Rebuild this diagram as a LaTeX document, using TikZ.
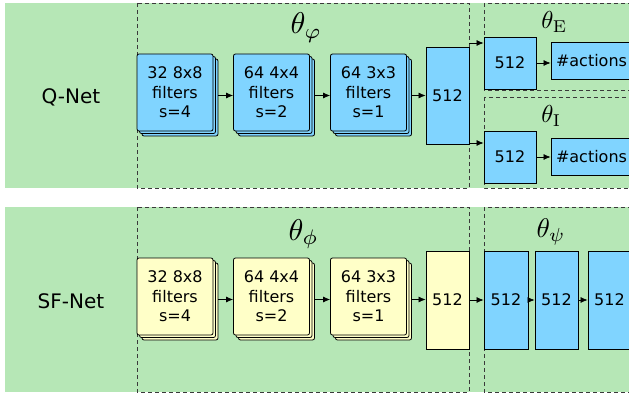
\documentclass[tikz,border=0pt]{standalone}
\usepackage{fontspec}
\newfontfamily\dejavu{DejaVu Sans}
\usetikzlibrary{arrows.meta}
\definecolor{pgreen}{HTML}{B6E7B6}
\definecolor{pblue}{HTML}{80D4FF}
\definecolor{pyellow}{HTML}{FFFFC8}
\definecolor{dashc}{HTML}{3A3A3A}
\tikzset{
  panel/.style={fill=pgreen, draw=none},
  dbox/.style={draw=dashc, dash pattern=on 4pt off 3pt, line width=0.8pt},
  conv/.style={draw=black, line width=0.8pt, rounded corners=2pt, minimum width=76pt, minimum height=77pt, inner sep=0pt, align=center, font=\dejavu\fontsize{16}{19.5}\selectfont},
  fc/.style={draw=black, line width=0.8pt, inner sep=0pt, align=center, font=\dejavu\fontsize{16}{19.5}\selectfont},
  lbl/.style={inner sep=0pt, font=\dejavu\fontsize{20}{24}\selectfont},
  th/.style={inner sep=0pt, anchor=base west},
  arr/.style={-{Latex[length=7pt,width=6pt]}, line width=0.7pt},
}
\begin{document}
\begin{tikzpicture}[x=1pt, y=-1pt]
\useasboundingbox (0,0) rectangle (629,393);
\clip (0,0) rectangle (629,393);
% panels
\fill[panel] (5,3) rectangle (640,188);
\fill[panel] (5,207) rectangle (640,392);
% dashed groups
\draw[dbox] (137,3) rectangle (469,188);
\draw[dbox] (484,3) rectangle (660,90);
\draw[dbox] (484,97) rectangle (660,188);
\draw[dbox] (137,207) rectangle (469,392);
\draw[dbox] (484,207) rectangle (660,392);
% labels
\node[lbl] (qnet) at (71,97) {Q-Net};
\node[lbl] (sfnet) at (71,301) {SF-Net};
\node[th, scale=3.0] (tphi) at (290,34) {$\theta_{\varphi}$};
\node[th, scale=2.45] (tE) at (541,29) {$\theta_{\mathrm{E}}$};
\node[th, scale=2.45] (tI) at (541,123) {$\theta_{\mathrm{I}}$};
\node[th, scale=3.0] (tphi2) at (288,240) {$\theta_{\phi}$};
\node[th, scale=2.7] (tpsi) at (536,237) {$\theta_{\psi}$};
% conv stacks
\foreach \n/\x/\t in {1/175/{32 8x8\\filters\\s=4}, 2/271.5/{64 4x4\\filters\\s=2}, 3/368.5/{64 3x3\\filters\\s=1}}{
  \node[conv, fill=pblue] (q\n c) at (\x+5,97.5) {};
  \node[conv, fill=pblue] (q\n b) at (\x+2.5,95) {};
  \node[conv, fill=pblue] (q\n) at (\x,92.5) {\t};
  \node[conv, fill=pyellow] (s\n c) at (\x+5,301.5) {};
  \node[conv, fill=pyellow] (s\n b) at (\x+2.5,299) {};
  \node[conv, fill=pyellow] (s\n) at (\x,296.5) {\t};
}
\node[fc, fill=pblue, minimum width=43pt, minimum height=97pt] (qfc) at (447.5,95.5) {512};
\node[fc, fill=pyellow, minimum width=43pt, minimum height=98pt] (sfc) at (447.5,300) {512};
% heads
\node[fc, fill=pblue, minimum width=52pt, minimum height=52pt] (e512) at (510,63) {512};
\node[fc, fill=pblue, minimum width=81pt, minimum height=37pt] (eact) at (591.5,61) {\#actions};
\node[fc, fill=pblue, minimum width=52pt, minimum height=52pt] (i512) at (510,157) {512};
\node[fc, fill=pblue, minimum width=81pt, minimum height=37pt] (iact) at (591.5,156.5) {\#actions};
\node[fc, fill=pblue, minimum width=44pt, minimum height=98pt] (p1) at (506,300) {512};
\node[fc, fill=pblue, minimum width=43pt, minimum height=98pt] (p2) at (556.5,300) {512};
\node[fc, fill=pblue, minimum width=43pt, minimum height=98pt] (p3) at (609.5,300) {512};
% arrows
\draw[arr] ([yshift=-3pt]q1.east -| q1c.east) -- ([yshift=-3pt]q2.west);
\draw[arr] ([yshift=-3pt]q2.east -| q2c.east) -- ([yshift=-3pt]q3.west);
\draw[arr] ([yshift=-3pt]q3.east -| q3c.east) -- ([yshift=-3pt]q3.east -| qfc.west);
\draw[arr] ([yshift=-3pt]s1.east -| s1c.east) -- ([yshift=-3pt]s2.west);
\draw[arr] ([yshift=-3pt]s2.east -| s2c.east) -- ([yshift=-3pt]s3.west);
\draw[arr] ([yshift=-3pt]s3.east -| s3c.east) -- ([yshift=-3pt]s3.east -| sfc.west);
\coordinate (qE) at (469,43);
\coordinate (qI) at (469,143);
\draw[arr] (qE) -- (qE -| e512.west);
\draw[arr] (qI) -- (qI -| i512.west);
\draw[arr] (e512.east) -- (e512.east -| eact.west);
\draw[arr] (i512.east) -- (i512.east -| iact.west);
\draw[arr] (sfc.east) -- (sfc.east -| p1.west);
\draw[arr] (p1.east) -- (p2.west);
\draw[arr] (p2.east) -- (p3.west);
\end{tikzpicture}
\end{document}
